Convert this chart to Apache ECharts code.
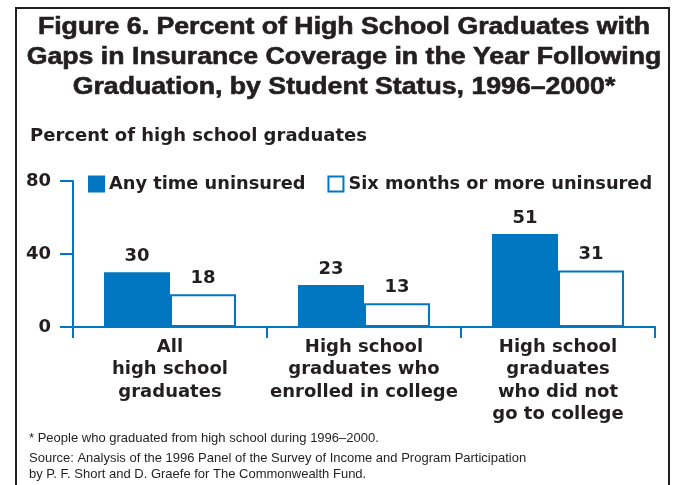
<!DOCTYPE html>
<html>
<head>
<meta charset="utf-8">
<script src="https://cdn.jsdelivr.net/npm/echarts@6/dist/echarts.min.js"></script>
<style>
html,body{margin:0;padding:0;background:#fff;}
#main{width:679px;height:485px;}
</style>
</head>
<body>
<div id="main"></div>
<script>
const categories = [
  "All\nhigh school\ngraduates",
  "High school\ngraduates who\nenrolled in college",
  "High school\ngraduates\nwho did not\ngo to college"
];
const seriesNames = ["Any time uninsured", "Six months or more uninsured"];
const anyTime = [30, 23, 51];
const sixMonths = [18, 13, 31];
const yTicks = [0, 40, 80];

const BLUE = "#0077c0";
const INK = "#231f20";
const BOLD = "DejaVu Sans";

const chart = echarts.init(document.getElementById('main'), null, {renderer: 'canvas'});
chart.setOption({
  backgroundColor: '#fff',
  animation: false,
  graphic: [
    {type: 'rect', shape: {x: 16, y: 8, width: 653, height: 500},
     style: {fill: 'none', stroke: INK, lineWidth: 2}},
    {type: 'text', x: 344, y: 13, scaleX: 1.16,
     style: {text: "Figure 6. Percent of High School Graduates with\nGaps in Insurance Coverage in the Year Following\nGraduation, by Student Status, 1996\u20132000*",
       align: 'center', verticalAlign: 'top', fill: INK, stroke: INK, lineWidth: 0.6,
       font: "bold 23px 'Liberation Sans'", lineHeight: 30}},
    {type: 'text', x: 29, y: 432,
     style: {text: "* People who graduated from high school during 1996\u20132000.",
       fill: INK, font: "13px 'Liberation Sans'", verticalAlign: 'top'}},
    {type: 'text', x: 29, y: 451,
     style: {text: "Source: Analysis of the 1996 Panel of the Survey of Income and Program Participation\nby P. F. Short and D. Graefe for The Commonwealth Fund.",
       fill: INK, font: "13px 'Liberation Sans'", lineHeight: 15.5, verticalAlign: 'top'}}
  ],
  title: [
    {text: "Percent of high school graduates", left: 25, top: 122,
     textStyle: {fontFamily: BOLD, fontWeight: 'bold', fontSize: 18, color: INK}}
  ],
  legend: {
    data: seriesNames, left: 83, top: 170, itemWidth: 15, itemHeight: 15, itemGap: 22,
    icon: 'rect',
    textStyle: {fontFamily: BOLD, fontWeight: 'bold', fontSize: 17.8, color: INK}
  },
  grid: {left: 73, right: 24, top: 181, bottom: 158},
  xAxis: {
    type: 'category', data: categories,
    axisLine: {lineStyle: {color: BLUE, width: 2}},
    axisTick: {show: true, length: 11, alignWithLabel: false, interval: 0, lineStyle: {color: BLUE, width: 2}},
    axisLabel: {interval: 0, margin: 9, fontFamily: BOLD, fontWeight: 'bold', fontSize: 18, lineHeight: 22.5, color: INK}
  },
  yAxis: {
    type: 'value', min: 0, max: 80, interval: 40,
    splitLine: {show: false},
    axisLine: {show: true, lineStyle: {color: BLUE, width: 2}},
    axisTick: {show: true, length: 13, lineStyle: {color: BLUE, width: 2}},
    axisLabel: {margin: 22, fontFamily: BOLD, fontWeight: 'bold', fontSize: 18, color: INK,
      formatter: v => yTicks.includes(v) ? String(v) : ''}
  },
  series: [
    {name: seriesNames[0], type: 'bar', data: anyTime, barWidth: 66, barGap: '0%',
     itemStyle: {color: BLUE, borderColor: BLUE, borderWidth: 1.5},
     label: {show: true, position: 'top', distance: 7, fontFamily: BOLD, fontWeight: 'bold', fontSize: 18, color: INK}},
    {name: seriesNames[1], type: 'bar', data: sixMonths, barWidth: 66, barGap: '0%',
     itemStyle: {color: '#fff', borderColor: BLUE, borderWidth: 2},
     label: {show: true, position: 'top', distance: 7, fontFamily: BOLD, fontWeight: 'bold', fontSize: 18, color: INK}}
  ]
});
</script>
</body>
</html>
